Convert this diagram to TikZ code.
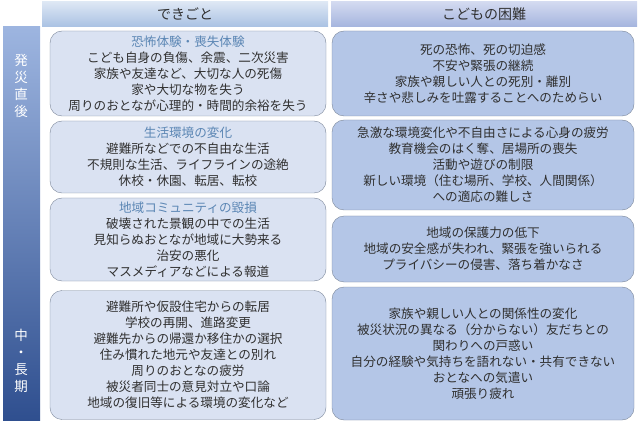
\documentclass[tikz,border=0pt]{standalone}
\usepackage{fontspec}
\setmainfont{Noto Sans CJK JP}
\definecolor{leftfill}{HTML}{DAE2F2}
\definecolor{rightfill}{HTML}{B4C6E7}
\definecolor{boxline}{HTML}{7A8699}
\definecolor{titleblue}{HTML}{5B86B4}
\definecolor{textgray}{HTML}{303030}
\definecolor{barTop}{HTML}{9DB5E0}
\definecolor{barBottom}{HTML}{2F4F8F}
\definecolor{headTopA}{HTML}{DDE7F4}
\definecolor{headBotA}{HTML}{A9C1E3}
\definecolor{headTopB}{HTML}{D3DAF0}
\definecolor{headBotB}{HTML}{A4B4DE}
\tikzset{
	card/.style={draw=boxline, rounded corners=12pt, align=center, inner sep=0pt,
		font=\fontsize{12.6}{16}\selectfont, text=textgray},
	leftcard/.style={card, fill=leftfill, minimum width=276pt},
	rightcard/.style={card, fill=rightfill, minimum width=302pt},
	header/.style={inner sep=0pt, font=\fontsize{14}{16}\selectfont, text=textgray},
	sidelabel/.style={align=center, text=white, font=\fontsize{13.5}{17}\selectfont},
}
\begin{document}
\begin{tikzpicture}[x=1pt,y=-1pt]
	\useasboundingbox (0,0) rectangle (640,422);
	%headers
	\shade[top color=headTopA, bottom color=headBotA] (42,2) rectangle (328,27);
	\shade[top color=headTopB, bottom color=headBotB] (331,2) rectangle (637,27);
	\node (headA) [header] at (185,14) {できごと};
	\node (headB) [header] at (484,14) {こどもの困難};

	%side bar
	\shade[top color=barTop, bottom color=barBottom] (3,27) rectangle (40,420);
	\node (early) [sidelabel] at (21,86) {発\\災\\直\\後};
	\node (later) [sidelabel] at (21,361) {中\\・\\長\\期};

	%left column
	\node (evA) [leftcard, minimum height=85pt] at (188,73.5)
		{\textcolor{titleblue}{恐怖体験・喪失体験}\\こども自身の負傷、余震、二次災害\\家族や友達など、大切な人の死傷\\家や大切な物を失う\\周りのおとなが心理的・時間的余裕を失う};
	\node (evB) [leftcard, minimum height=72pt] at (188,157)
		{\textcolor{titleblue}{生活環境の変化}\\避難所などでの不自由な生活\\不規則な生活、ライフラインの途絶\\休校・休園、転居、転校};
	\node (evC) [leftcard, minimum height=83pt] at (188,239.5)
		{\textcolor{titleblue}{地域コミュニティの毀損}\\破壊された景観の中での生活\\見知らぬおとなが地域に大勢来る\\治安の悪化\\マスメディアなどによる報道};
	\node (evD) [leftcard, minimum height=129pt] at (188,355)
		{避難所や仮設住宅からの転居\\学校の再開、進路変更\\避難先からの帰還か移住かの選択\\住み慣れた地元や友達との別れ\\周りのおとなの疲労\\被災者同士の意見対立や口論\\地域の復旧等による環境の変化など};

	%right column
	\node (hdA) [rightcard, minimum height=85pt] at (483,73.5)
		{死の恐怖、死の切迫感\\不安や緊張の継続\\家族や親しい人との死別・離別\\辛さや悲しみを吐露することへのためらい};
	\node (hdB) [rightcard, minimum height=90pt] at (483,165)
		{急激な環境変化や不自由さによる心身の疲労\\教育機会のはく奪、居場所の喪失\\活動や遊びの制限\\新しい環境（住む場所、学校、人間関係）\\への適応の難しさ};
	\node (hdC) [rightcard, minimum height=66pt] at (483,249)
		{地域の保護力の低下\\地域の安全感が失われ、緊張を強いられる\\プライバシーの侵害、落ち着かなさ};
	\node (hdD) [rightcard, minimum height=133pt] at (483,353.5)
		{家族や親しい人との関係性の変化\\被災状況の異なる（分からない）友だちとの\\関わりへの戸惑い\\自分の経験や気持ちを語れない・共有できない\\おとなへの気遣い\\頑張り疲れ};
\end{tikzpicture}
\end{document}
